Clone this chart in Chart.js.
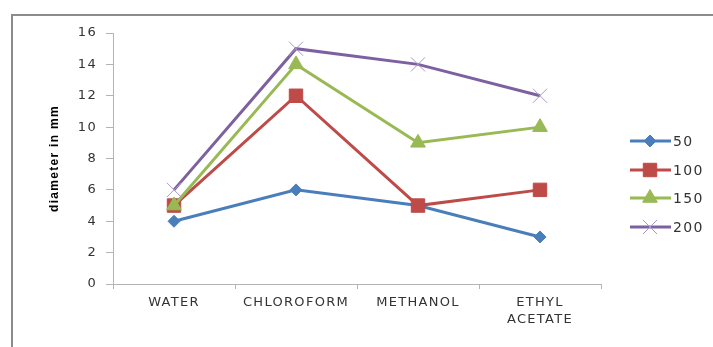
<!DOCTYPE html>
<html>
<head>
<meta charset="utf-8">
<script src="https://cdn.jsdelivr.net/npm/chart.js@4/dist/chart.umd.min.js"></script>
<style>
  html, body { margin:0; padding:0; background:#fff; }
  #wrap { position:relative; width:713px; height:347px; overflow:hidden; }
  #frame { position:absolute; left:11px; top:14px; right:-5px; bottom:-5px; border-top:2px solid #8c8c8c; border-left:2px solid #8c8c8c; }
  canvas { position:absolute; left:0; top:0; }
</style>
</head>
<body>
<div id="wrap">
  <div id="frame"></div>
  <canvas id="chart" width="713" height="347"></canvas>
</div>
<script>
var categories = ['WATER', 'CHLOROFORM', 'METHANOL', ['ETHYL', 'ACETATE']];
var seriesNames = ['50', '100', '150', '200'];
var s50  = [4, 6, 5, 3];
var s100 = [5, 12, 5, 6];
var s150 = [5, 14, 9, 10];
var s200 = [6, 15, 14, 12];
var yTicks = [0, 2, 4, 6, 8, 10, 12, 14, 16];

var FONT = '"DejaVu Sans", sans-serif';
var AXIS = '#b4b4b4';
var TXT  = '#333333';

// spacing out letters a bit to get closer to the stretched look of the original
var spacing = {
  id: 'spacing',
  beforeLayout: function(c) { c.ctx.letterSpacing = '1.3px'; },
  beforeDraw:   function(c) { c.ctx.letterSpacing = '1.3px'; }
};

// excel style legend: line with marker through it
var sideLegend = {
  id: 'sideLegend',
  afterDraw: function(c) {
    var ctx = c.ctx;
    var ys = [141, 170, 198, 227];
    c.data.datasets.forEach(function(ds, i) {
      var y = ys[i];
      ctx.save();
      ctx.strokeStyle = ds.borderColor;
      ctx.lineWidth = 3;
      ctx.beginPath(); ctx.moveTo(630, y); ctx.lineTo(671, y); ctx.stroke();
      ctx.fillStyle = ds.pointBackgroundColor;
      ctx.strokeStyle = ds.pointBorderColor;
      ctx.lineWidth = ds.pointBorderWidth;
      Chart.helpers.drawPoint(ctx, { pointStyle: ds.pointStyle, radius: ds.pointRadius, rotation: 0, borderWidth: ds.pointBorderWidth }, 650, y);
      ctx.fillStyle = TXT;
      ctx.font = '14px ' + FONT;
      ctx.textAlign = 'left';
      ctx.textBaseline = 'middle';
      ctx.fillText(ds.label, 673, y + 1);
      ctx.restore();
    });
  }
};

new Chart(document.getElementById('chart'), {
  type: 'line',
  data: {
    labels: categories,
    datasets: [
      { label: seriesNames[0], data: s50,  borderColor: '#4A7EBB', pointBackgroundColor: '#4A7EBB', pointBorderColor: '#4A7EBB', pointBorderWidth: 1, pointStyle: 'rectRot',  pointRadius: 6,  borderWidth: 3, order: 3 },
      { label: seriesNames[1], data: s100, borderColor: '#BE4B48', pointBackgroundColor: '#BE4B48', pointBorderColor: '#BE4B48', pointBorderWidth: 1, pointStyle: 'rect',     pointRadius: 9.5, borderWidth: 3, order: 2 },
      { label: seriesNames[2], data: s150, borderColor: '#98B954', pointBackgroundColor: '#98B954', pointBorderColor: '#98B954', pointBorderWidth: 1, pointStyle: 'triangle', pointRadius: 8.5, borderWidth: 3, order: 1 },
      { label: seriesNames[3], data: s200, borderColor: '#7D60A0', pointBackgroundColor: '#7D60A0', pointBorderColor: '#A899C9', pointBorderWidth: 1, pointStyle: 'crossRot', pointRadius: 10, borderWidth: 3, order: 0 }
    ]
  },
  options: {
    responsive: false,
    animation: false,
    devicePixelRatio: 1,
    layout: { padding: { left: 11, right: 112, top: 33, bottom: 0 } },
    plugins: { legend: { display: false }, tooltip: { enabled: false } },
    elements: { line: { tension: 0 } },
    scales: {
      x: {
        offset: true,
        grid: { offset: true, drawOnChartArea: false, drawTicks: true, tickLength: 5, color: AXIS },
        border: { color: AXIS, width: 1 },
        ticks: { color: TXT, font: { family: FONT, size: 13, lineHeight: 1.3 }, padding: 5, maxRotation: 0, autoSkip: false },
        afterFit: function(s) { s.height = 63; }
      },
      y: {
        min: 0, max: 16,
        afterBuildTicks: function(s) { s.ticks = yTicks.map(function(v) { return { value: v }; }); },
        grid: { drawOnChartArea: false, drawTicks: true, tickLength: 7, color: AXIS },
        border: { color: AXIS, width: 1 },
        ticks: { color: TXT, font: { family: FONT, size: 13 }, padding: 9 },
        title: { display: true, text: 'diameter in mm', color: '#000', font: { family: '"Liberation Sans", Arial, sans-serif', size: 12, weight: 'bold' }, padding: { top: 36, bottom: 0 } },
        afterFit: function(s) { s.width = 102; }
      }
    }
  },
  plugins: [spacing, sideLegend]
});
</script>
</body>
</html>
